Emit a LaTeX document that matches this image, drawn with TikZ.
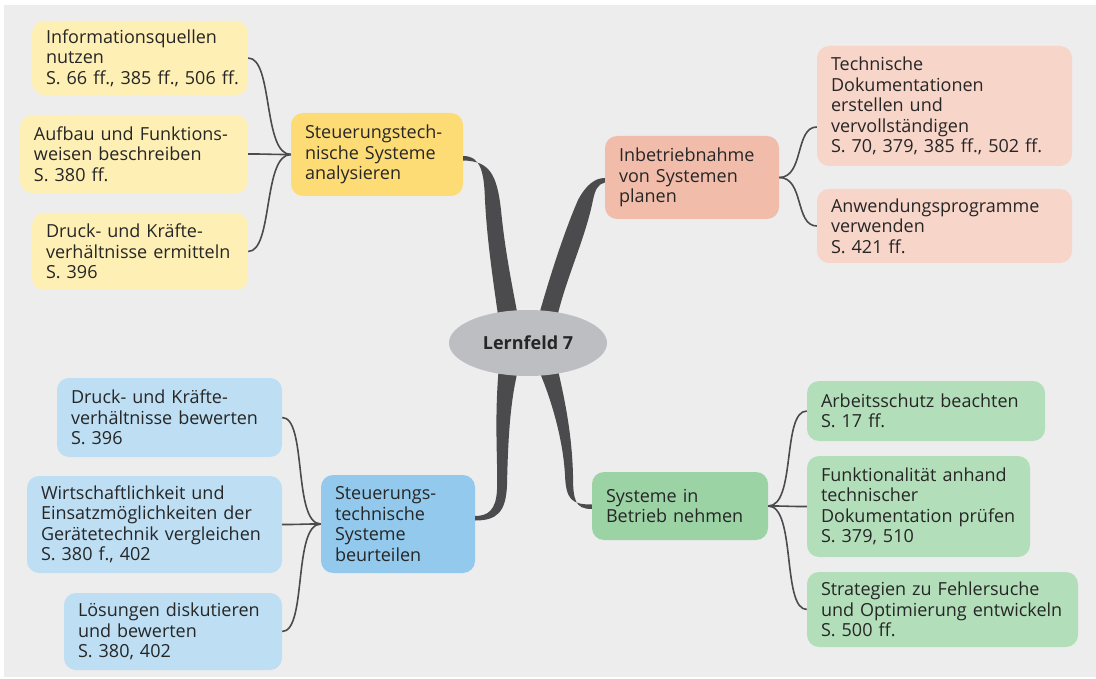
\documentclass[tikz,border=0pt]{standalone}
\usepackage{fontspec}
\setmainfont{Open Sans}
\usetikzlibrary{calc,shapes.geometric}
\definecolor{bgc}{HTML}{EDEDED}
\definecolor{ylf}{HTML}{FEEFB5}
\definecolor{yhb}{HTML}{FDDC76}
\definecolor{rhb}{HTML}{F2BCAA}
\definecolor{rlf}{HTML}{F7D5C9}
\definecolor{blf}{HTML}{BDDEF3}
\definecolor{bhb}{HTML}{92C9EC}
\definecolor{ghb}{HTML}{9CD3A5}
\definecolor{glf}{HTML}{B3DEBA}
\definecolor{ellc}{HTML}{BDBEC2}
\definecolor{linec}{HTML}{4B4B4D}
\definecolor{txtc}{HTML}{262626}
\begin{document}
\begin{tikzpicture}[x=1pt,y=-1pt,
  box/.style={rectangle, rounded corners=12pt, inner xsep=14pt, inner ysep=0pt,
    align=left, text=txtc, font=\fontsize{18}{20.5}\selectfont, anchor=center},
  thinline/.style={draw=linec, line width=1.6pt},
  branch/.style={fill=linec},
]
\useasboundingbox (0,0) rectangle (1096,679);
\fill[white] (0,0) rectangle (1096,679);
\fill[bgc] (4,5) rectangle (1096,677);

% nodes
\node[box, fill=ylf, minimum width=216pt, minimum height=74pt, text width=188pt, inner xsep=12pt] (y1) at (140,58)
  {Informationsquellen\\nutzen\\\mbox{S. 66 ff., 385 ff., 506 ff.}};
\node[box, fill=ylf, minimum width=228pt, minimum height=78pt, text width=200pt] (y2) at (134,154)
  {Aufbau und Funktions-\\weisen beschreiben\\S. 380 ff.};
\node[box, fill=ylf, minimum width=216pt, minimum height=77pt, text width=188pt] (y3) at (140,251.5)
  {Druck- und Kräfte-\\verhältnisse ermitteln\\S. 396};
\node[box, fill=yhb, minimum width=172pt, minimum height=83pt, text width=144pt] (yh) at (377,154.5)
  {Steuerungstech-\\nische Systeme\\analysieren};

\node[box, fill=rhb, minimum width=174pt, minimum height=83pt, text width=146pt] (rh) at (692,177.5)
  {Inbetriebnahme\\von Systemen\\planen};
\node[box, fill=rlf, minimum width=255pt, minimum height=120pt, text width=227pt] (r1) at (944.5,106)
  {Technische\\Dokumentationen\\erstellen und\\vervollständigen\\S. 70, 379, 385 ff., 502 ff.};
\node[box, fill=rlf, minimum width=255pt, minimum height=74pt, text width=227pt] (r2) at (944.5,226)
  {Anwendungsprogramme\\verwenden\\S. 421 ff.};

\node[box, fill=blf, minimum width=225pt, minimum height=79pt, text width=197pt] (b1) at (169.5,417.5)
  {Druck- und Kräfte-\\verhältnisse bewerten\\S. 396};
\node[box, fill=blf, minimum width=255pt, minimum height=97pt, text width=227pt] (b2) at (154.5,524.5)
  {Wirtschaftlichkeit und\\Einsatzmöglichkeiten der\\Gerätetechnik vergleichen\\S. 380 f., 402};
\node[box, fill=blf, minimum width=218pt, minimum height=77pt, text width=190pt] (b3) at (173,631.5)
  {Lösungen diskutieren\\und bewerten\\S. 380, 402};
\node[box, fill=bhb, minimum width=154pt, minimum height=98pt, text width=126pt] (bh) at (398,524)
  {Steuerungs-\\technische\\Systeme\\beurteilen};

\node[box, fill=ghb, minimum width=176pt, minimum height=68pt, text width=148pt] (gh) at (680,506)
  {Systeme in\\Betrieb nehmen};
\node[box, fill=glf, minimum width=238pt, minimum height=60pt, text width=210pt] (g1) at (926,411)
  {Arbeitsschutz beachten\\S. 17 ff.};
\node[box, fill=glf, minimum width=223pt, minimum height=101pt, text width=195pt] (g2) at (918.5,506.5)
  {Funktionalität anhand\\technischer\\Dokumentation prüfen\\S. 379, 510};
\node[box, fill=glf, minimum width=271pt, minimum height=75pt, text width=243pt] (g3) at (942.5,609.5)
  {Strategien zu Fehlersuche\\und Optimierung entwickeln\\S. 500 ff.};

% thick branches (under the ellipse)
\fill[branch] ($(yh.east)+(0,1.5)$) .. controls (482,156) and (484,175) .. (485,200)
  .. controls (487,240) and (493,280) .. (499,322) -- (519,322)
  .. controls (511,280) and (505,250) .. (501,210)
  .. controls (497,175) and (490,161) .. ($(yh.east)+(0,6)$) -- cycle;
\fill[branch] (537,322) .. controls (550,275) and (565,230) .. (578,200)
  .. controls (586,185) and (595,178) .. ($(rh.west)+(0,0.5)$)
  -- ($(rh.west)+(0,5)$) .. controls (598,184) and (595,190) .. (593,200)
  .. controls (585,240) and (565,280) .. (556,322) -- cycle;
\fill[branch] (499,366) .. controls (494,420) and (498,460) .. (497,490)
  .. controls (496,510) and (488,516) .. ($(bh.east)+(0,-8)$)
  -- ($(bh.east)+(0,-3.5)$) .. controls (497,520.5) and (506,512) .. (507,485)
  .. controls (508,440) and (510,400) .. (519,366) -- cycle;
\fill[branch] (537,366) .. controls (552,400) and (563,440) .. (565,475)
  .. controls (566,500) and (572,504.5) .. ($(gh.west)+(0,-1.5)$)
  -- ($(gh.west)+(0,3)$) .. controls (575,509) and (573,500) .. (573,475)
  .. controls (572,435) and (565,400) .. (557,366) -- cycle;

\node[ellipse, fill=ellc, minimum width=158pt, minimum height=66pt, inner sep=0pt,
  text=txtc, font=\fontsize{18}{20}\selectfont\bfseries] (lf) at (528,343) {Lernfeld 7};

% thin connectors
\draw[thinline] (yh.west) .. controls +(-28,0) and +(25,0) .. (y1.east);
\draw[thinline] (yh.west) .. controls +(-25,0) and +(25,0) .. (y2.east);
\draw[thinline] (yh.west) .. controls +(-28,0) and +(25,0) .. (y3.east);

\draw[thinline] (rh.east) .. controls +(25,0) and +(-22,0) .. ([yshift=-21pt]r1.west);
\draw[thinline] (rh.east) .. controls +(25,0) and +(-22,0) .. (r2.west);

\draw[thinline] (bh.west) .. controls +(-28,0) and +(25,0) .. (b1.east);
\draw[thinline] (bh.west) .. controls +(-25,0) and +(25,0) .. (b2.east);
\draw[thinline] (bh.west) .. controls +(-28,0) and +(25,0) .. (b3.east);

\draw[thinline] (gh.east) .. controls +(28,0) and +(-25,0) .. (g1.west);
\draw[thinline] (gh.east) .. controls +(25,0) and +(-25,0) .. (g2.west);
\draw[thinline] (gh.east) .. controls +(28,0) and +(-25,0) .. (g3.west);
\end{tikzpicture}
\end{document}
